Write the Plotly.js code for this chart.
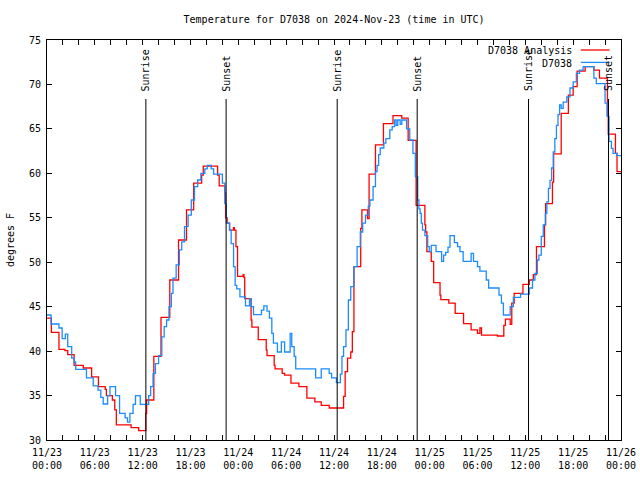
<!DOCTYPE html>
<html>
<head>
<meta charset="utf-8">
<script src="https://cdn.plot.ly/plotly-3.0.1.min.js"></script>
<style>html,body{margin:0;padding:0;background:#fff;}#chart{width:640px;height:480px;}</style>
</head>
<body>
<div id="chart"></div>
<script>
// Hours after 2024-11-23 00:00 UTC and temperatures (degrees F)
const analysisHours = [0,0.55,1.5,2.25,2.6,3.4,4.55,5.6,6.45,7.3,7.45,8.2,8.5,8.7,10.55,11.5,12.4,12.5,13.4,14.3,15.4,16.5,17.5,18.4,19.4,19.6,21.4,21.6,22.3,22.4,22.6,22.9,23.4,23.5,23.7,23.9,24.6,24.7,24.8,25.6,25.7,26.5,27.5,27.6,28.5,28.6,29.5,29.8,30.6,31.6,32.6,33.6,34.4,35.4,37.2,37.4,37.7,38.1,38.3,38.5,39.35,39.5,40.2,40.4,41.2,42.2,43.4,44.5,45.3,46.3,47.4,47.5,47.65,48.2,48.5,49.3,49.4,50.4,51.2,52.25,53.2,54.0,54.3,54.5,56.5,57.3,57.5,58.1,58.3,58.6,59.7,60.5,61.0,61.4,62.4,62.55,63.4,63.55,64.5,65.4,66.0,66.5,67.5,68.6,69.3,70.3,70.4,71.3,71.5,72];
const analysisTemps = [43.7,42.1,40.2,40.05,39.6,38.4,38.1,37.1,36.0,35.7,35.0,34.5,33.4,31.7,31.4,31.05,33.0,34.5,39.4,43.8,48.0,52.5,55.9,58.9,59.8,60.8,59.8,58.6,57.8,55.0,54.4,53.6,53.9,53.6,51.75,48.4,48.6,48.3,45.9,43.5,42.7,41.3,40.1,39.5,38.4,38.0,37.5,37.3,36.4,36.0,34.7,34.3,33.9,33.6,34.9,37.7,39.2,39.9,42.2,49.5,53.8,55.9,54.9,59.9,63.2,65.6,66.5,66.2,63.7,56.4,54.2,53.4,51.2,50.1,47.7,46.3,45.8,45.4,44.25,43.1,42.4,42.0,42.6,41.8,41.7,42.9,43.6,43.0,45.4,46.5,47.5,48.0,48.6,51.75,54.2,56.6,59.0,62.2,66.75,68.8,69.75,71.5,72.0,71.6,70.7,66.5,64.4,62.25,60.2,60.2];

const stationHours = [0,0.5,1.5,1.9,2.3,2.6,3.1,3.4,3.6,4.95,5.8,6.4,6.75,7.05,7.6,7.9,8.6,9.1,9.8,10.1,10.4,10.8,11.1,11.7,12.75,13.0,13.3,13.6,14.0,14.4,14.7,15.0,15.3,15.6,15.8,16.2,16.6,16.9,17.25,17.7,18.1,18.5,18.9,19.3,19.8,20.1,20.6,20.9,22.0,22.3,22.5,22.9,23.1,23.4,23.6,23.8,24.2,24.9,25.4,25.6,25.9,26.9,27.2,27.6,27.9,28.2,28.4,28.9,29.4,29.8,30.5,30.7,31.0,31.2,33.7,34.4,35.4,35.7,36.3,36.8,37.0,37.2,37.5,37.8,38.1,38.5,38.9,39.3,39.6,39.95,40.3,40.5,40.9,41.2,41.4,41.6,41.8,42.25,42.5,43.0,43.3,43.6,43.8,44.0,44.3,44.5,45.1,45.5,45.9,46.2,46.5,46.65,46.8,46.95,47.1,47.4,47.75,47.95,48.2,48.8,49.5,49.75,50.0,50.3,50.55,51.1,51.5,51.8,52.2,53.2,53.5,54.0,54.3,55.1,55.4,56.7,57.0,57.25,58.1,58.5,59.4,60.5,60.9,61.2,61.5,61.7,62.0,62.25,62.5,62.7,62.9,63.1,63.3,63.5,63.7,63.9,64.1,64.3,64.5,64.75,65.2,65.6,66.0,66.4,66.8,67.25,68.6,68.9,70.0,70.25,70.5,70.8,71.0,71.5,72];
const stationTemps = [44.06,43.05,42.6,41.4,41.9,40.5,39.2,38.8,37.95,37.0,36.1,35.6,34.8,34.05,35.0,36.0,35.0,33.0,32.5,32.0,33.0,34.0,35.0,34.0,35.0,36.0,37.5,38.6,39.5,41.6,42.75,43.5,45.0,46.5,48.2,49.7,51.4,52.3,54.0,55.3,57.0,58.5,59.25,60.0,60.5,60.9,60.5,59.9,58.9,56.6,54.4,53.6,52.1,49.5,47.4,47.0,46.1,45.1,45.9,45.0,44.1,44.6,45.1,44.5,43.7,42.0,40.9,39.9,41.05,39.9,42.0,40.5,39.4,38.0,37.0,38.0,37.5,37.0,36.45,37.4,39.4,40.5,42.4,45.75,47.25,49.5,51.75,53.4,54.4,55.3,56.3,57.0,58.5,60.2,60.9,62.1,62.85,63.4,63.9,64.9,65.25,66.0,65.4,66.0,65.5,66.0,65.0,63.75,62.25,59.6,57.0,56.0,55.5,54.4,53.6,53.0,51.75,51.2,51.9,51.2,50.1,50.8,51.1,51.7,53.0,52.2,51.75,51.2,50.1,51.0,50.1,49.5,49.0,48.0,47.1,46.3,45.4,44.06,45.0,46.05,46.4,47.1,48.0,48.75,50.25,50.8,52.9,54.2,55.5,56.8,58.3,59.2,60.6,62.4,63.9,65.4,66.6,67.7,67.3,68.0,68.6,69.6,70.3,71.25,71.6,72.0,70.7,70.1,67.9,66.4,63.6,62.8,62.25,62.0,62.0];

const sunEvents = ["2024-11-23 12:24","2024-11-23 22:28","2024-11-24 12:24","2024-11-24 22:26","2024-11-25 12:24","2024-11-25 22:26"];
const sunLabels = ["Sunrise","Sunset","Sunrise","Sunset","Sunrise","Sunset"];

const tickVals = ["2024-11-23 00:00","2024-11-23 06:00","2024-11-23 12:00","2024-11-23 18:00","2024-11-24 00:00","2024-11-24 06:00","2024-11-24 12:00","2024-11-24 18:00","2024-11-25 00:00","2024-11-25 06:00","2024-11-25 12:00","2024-11-25 18:00","2024-11-26 00:00"];
const tickText = ["11/23<br>00:00","11/23<br>06:00","11/23<br>12:00","11/23<br>18:00","11/24<br>00:00","11/24<br>06:00","11/24<br>12:00","11/24<br>18:00","11/25<br>00:00","11/25<br>06:00","11/25<br>12:00","11/25<br>18:00","11/26<br>00:00"];

const seriesNames = ["D7038 Analysis","D7038"];
const seriesColors = ["#ff0000","#1a8cff"];

const base = Date.UTC(2024,10,23,0,0,0);
function toTime(h){
  const d = new Date(base + Math.round(h*3600000));
  return d.toISOString().replace("T"," ").slice(0,19);
}

const FONT = "DejaVu Sans Mono, Liberation Mono, monospace";

const traces = [
  {x: analysisHours.map(toTime), y: analysisTemps, type:"scatter", mode:"lines",
   line:{color:seriesColors[0], width:1.3, shape:"hv"}, name:seriesNames[0], showlegend:false},
  {x: stationHours.map(toTime), y: stationTemps, type:"scatter", mode:"lines",
   line:{color:seriesColors[1], width:1.3, shape:"hv"}, name:seriesNames[1], showlegend:false}
];

const shapes = [];
const annotations = [];
sunEvents.forEach((t,i)=>{
  shapes.push({type:"line", xref:"x", yref:"paper", x0:t, x1:t, y0:0, y1:0.8525,
    line:{color:"#000", width:1}});
  annotations.push({xref:"x", yref:"paper", x:t, y:0.866, text:sunLabels[i],
    textangle:-90, showarrow:false, xanchor:"center", yanchor:"bottom",
    font:{family:FONT, size:10, color:"#000"}});
});

// legend (gnuplot style: text right aligned, sample line to the right)
const legY = [0.975, 0.944];
seriesNames.forEach((n,i)=>{
  annotations.push({xref:"paper", yref:"paper", x:0.918, y:legY[i]-0.002, text:n,
    showarrow:false, xanchor:"right", yanchor:"middle",
    font:{family:FONT, size:10, color:"#000"}});
  shapes.push({type:"line", xref:"paper", yref:"paper", x0:0.930, x1:0.980,
    y0:legY[i], y1:legY[i], line:{color:seriesColors[i], width:1.3}});
});

const layout = {
  width:640, height:480,
  margin:{l:47, r:19, t:40, b:40, pad:0},
  paper_bgcolor:"#fff", plot_bgcolor:"#fff",
  font:{family:FONT, size:10, color:"#000"},
  showlegend:false,
  title:{text:"Temperature for D7038 on 2024-Nov-23 (time in UTC)", x:0.522, xanchor:"center", y:0.96, yanchor:"middle",
    font:{family:FONT, size:10, color:"#000"}},
  xaxis:{type:"date", range:["2024-11-23 00:00","2024-11-26 00:00"],
    tickmode:"array", tickvals:tickVals, ticktext:tickText,
    ticks:"inside", ticklen:5, tickcolor:"#000", tickwidth:1,
    showline:true, linecolor:"#000", linewidth:1, mirror:"allticks",
    showgrid:false, zeroline:false, ticklabelstandoff:3,
    minor:{dtick:7200000, ticks:"inside", ticklen:5, tickcolor:"#000", showgrid:false},
    tickfont:{family:FONT, size:10, color:"#000"}},
  yaxis:{range:[30,75], dtick:5, tick0:30,
    ticks:"inside", ticklen:5, tickcolor:"#000", tickwidth:1,
    showline:true, linecolor:"#000", linewidth:1, mirror:"allticks",
    showgrid:false, zeroline:false, ticklabelstandoff:3,
    title:{text:"degrees F", standoff:12, font:{family:FONT, size:10, color:"#000"}},
    tickfont:{family:FONT, size:10, color:"#000"}},
  shapes:shapes,
  annotations:annotations
};

Plotly.newPlot("chart", traces, layout, {displayModeBar:false, staticPlot:true});
</script>
</body>
</html>
